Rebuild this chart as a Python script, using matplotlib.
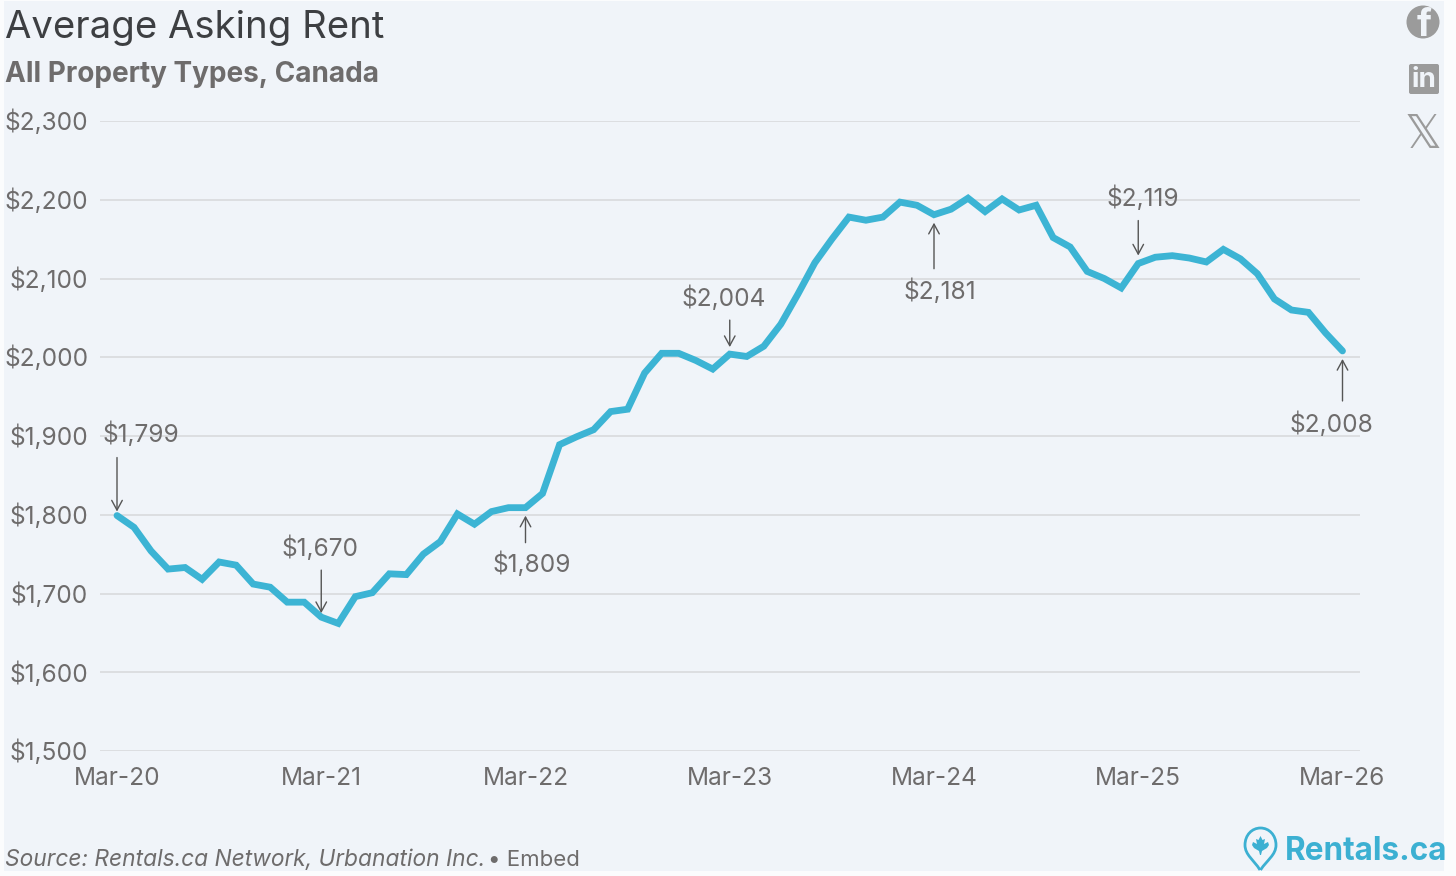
import numpy as np
import matplotlib
matplotlib.use("Agg")
import matplotlib.pyplot as plt
from matplotlib.patches import Rectangle, Circle, FancyBboxPatch, Polygon, PathPatch
from matplotlib.path import Path
from matplotlib.transforms import ScaledTranslation

W, H = 1456, 876

months = ["Mar-20", "Mar-21", "Mar-22", "Mar-23", "Mar-24", "Mar-25", "Mar-26"]
yticks = [1500, 1600, 1700, 1800, 1900, 2000, 2100, 2200, 2300]
rent = [1799, 1784, 1754, 1731, 1733, 1718, 1740, 1736, 1712, 1708, 1689, 1689,
        1670, 1662, 1696, 1701, 1725, 1724, 1750, 1766, 1801, 1788, 1804, 1809,
        1809, 1827, 1889, 1899, 1908, 1931, 1934, 1980, 2005, 2005, 1996, 1985,
        2004, 2001, 2014, 2042, 2080, 2120, 2150, 2178, 2174, 2178, 2197, 2193,
        2181, 2188, 2202, 2185, 2201, 2187, 2193, 2152, 2140, 2109, 2100, 2088,
        2119, 2127, 2129, 2126, 2121, 2137, 2125, 2106, 2074, 2060, 2057, 2031,
        2008]
# (month index, label, arrow start offset px, arrow gap px, label offset px)
notes = [(0, "$1,799", (0, 58), 4, (24, 81)),
         (12, "$1,670", (0, 47), 4, (-1, 69)),
         (24, "$1,809", (0, -35), 8, (6, -57)),
         (36, "$2,004", (0, 34), 7, (-6, 56)),
         (48, "$2,181", (0, -54), 8, (6, -77)),
         (60, "$2,119", (0, 43), 8, (5, 65)),
         (72, "$2,008", (0, -50), 8, (-11, -73))]

plt.rcParams["font.family"] = ["Inter", "DejaVu Sans"]
TXT = "#6e6c6c"
LINE = "#3cb4d4"
BG = "#f0f4f9"

fig = plt.figure(figsize=(W / 100, H / 100), dpi=100, facecolor="#fbfcfd")

back = fig.add_axes([0, 0, 1, 1], zorder=0)
back.set_xlim(0, W); back.set_ylim(H, 0); back.axis("off")
back.add_patch(Rectangle((4, 1), 1440, 870, fc=BG, ec="none"))

L, R, T, B = 100, 1360, 121, 751
x0, px_mo = 117.0, (1342.5 - 117.0) / 72
ax = fig.add_axes([L / W, 1 - B / H, (R - L) / W, (B - T) / H], zorder=1)
ax.patch.set_alpha(0)
ax.set_xlim((L - x0) / px_mo, (R - x0) / px_mo)
ax.set_ylim(1500, 2300)
for s in ax.spines.values():
    s.set_visible(False)
ax.set_yticks(yticks, [f"${v:,}" for v in yticks])
ax.set_xticks(np.arange(0, 73, 12), months)
ax.tick_params(length=0, labelsize=17.6, labelcolor=TXT)
ax.tick_params(axis="y", pad=8.5)
ax.tick_params(axis="x", pad=11.5)
for lab in ax.get_yticklabels():
    lab.set_transform(lab.get_transform() + ScaledTranslation(0, 0.01, fig.dpi_scale_trans))
ax.set_axisbelow(True)
ax.grid(axis="y", color="#d9dadd", lw=1.2)
ax.plot(range(len(rent)), rent, color=LINE, lw=4.9, solid_joinstyle="miter",
        solid_capstyle="round", clip_on=False, zorder=3)

for i, label, start, gap, lab in notes:
    v = rent[i]
    pt = lambda o: (o[0] * 0.72, o[1] * 0.72)
    ax.annotate("", xy=(i, v), xycoords="data",
                xytext=pt(start), textcoords="offset points",
                arrowprops=dict(arrowstyle="->,head_length=0.7,head_width=0.38",
                                color="#555555", lw=1.0,
                                shrinkA=0, shrinkB=gap * 0.72),
                zorder=4)
    ax.annotate(label, xy=(i, v), xycoords="data", xytext=pt(lab),
                textcoords="offset points", ha="center", va="center",
                fontsize=17.6, color=TXT, zorder=5)

top = fig.add_axes([0, 0, 1, 1], zorder=2)
top.patch.set_alpha(0)
top.set_xlim(0, W); top.set_ylim(H, 0); top.axis("off")
top.text(5, 28, "Average Asking Rent", fontsize=27.55, color="#3d3f42", va="center", ha="left")
top.text(5, 74, "All Property Types, Canada", fontsize=20.1, color=TXT, weight="bold",
         va="center", ha="left")
top.text(5, 860, "Source: Rentals.ca Network, Urbanation Inc.", fontsize=16.4, color=TXT,
         style="italic", va="center", ha="left")
top.text(488, 860, "• Embed", fontsize=16, color=TXT, va="center", ha="left")

ICON = "#9b9b9b"
top.add_patch(Circle((1423, 22), 16.5, fc=ICON, ec="none"))
top.text(1424, 26, "f", fontsize=27, weight="bold", color=BG, ha="center", va="center")
top.add_patch(FancyBboxPatch((1409, 64), 30, 30, boxstyle="round,pad=0,rounding_size=2",
                             fc=ICON, ec="none"))
top.text(1424, 80, "in", fontsize=20, weight="bold", color=BG, ha="center", va="center")
top.text(1423, 135, "\U0001D54F", fontsize=33, color=ICON, ha="center", va="center",
         family="DejaVu Sans")

LOGO = "#3cb0d2"
verts = [(1260, 870), (1254, 860), (1245, 855), (1245, 845),
         (1245, 835), (1252, 828), (1260.5, 828),
         (1269, 828), (1276, 835), (1276, 845),
         (1276, 855), (1267, 860), (1260.5, 870)]
codes = [Path.MOVETO] + [Path.CURVE4] * 12
top.add_patch(PathPatch(Path(verts, codes), fc="none", ec=LOGO, lw=2.0))
leaf = [(1260.5, 836), (1262.5, 840), (1265, 839), (1264, 844), (1268, 842), (1269, 845),
        (1267, 848), (1262, 851), (1261, 855), (1260, 855), (1259, 851), (1254, 848),
        (1252, 845), (1253, 842), (1257, 844), (1256, 839), (1258.5, 840)]
top.add_patch(Polygon(leaf, fc=LOGO, ec="none"))
top.text(1285, 851, "Rentals.ca", fontsize=22.7, weight="bold", color=LOGO, va="center", ha="left")

fig.savefig("out.png", dpi=100, facecolor=fig.get_facecolor())
